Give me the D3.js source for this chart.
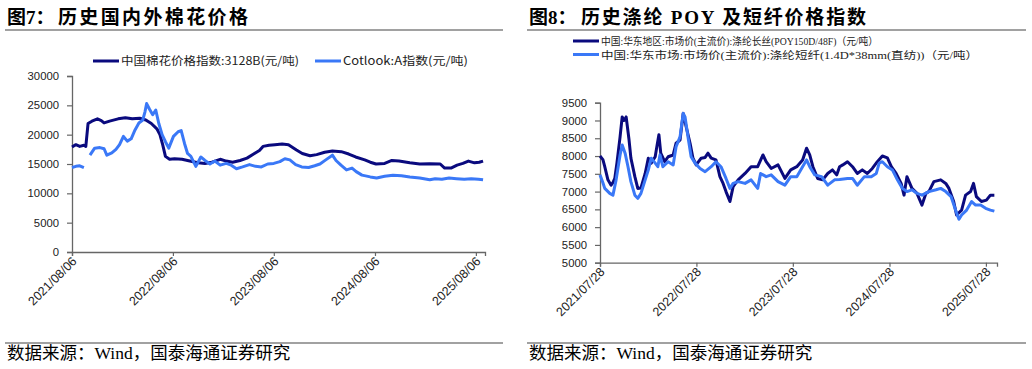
<!DOCTYPE html>
<html><head><meta charset="utf-8">
<script src="https://cdn.jsdelivr.net/npm/d3@7"></script>
<style>
html,body{margin:0;padding:0;background:#fff;}
svg{display:block;}
</style></head>
<body>
<script>
// ---------- DATA ----------
const leftTitlePrefix = "图7：", leftTitle = "历史国内外棉花价格";
const rightTitlePrefix = "图8：", rightTitle = "历史涤纶 POY 及短纤价格指数";
const sourceText = "数据来源：Wind，国泰海通证券研究";

const leftSeriesNames = ["中国棉花价格指数:3128B(元/吨)", "Cotlook:A指数(元/吨)"];
const rightSeriesNames = ["中国:华东地区:市场价(主流价):涤纶长丝(POY150D/48F)（元/吨）",
                          "中国:华东市场:市场价(主流价):涤纶短纤(1.4D*38mm(直纺))（元/吨）"];

const leftTickDates = ["2021-08-06","2022-08-06","2023-08-06","2024-08-06","2025-08-06"];
const leftTickLabels = ["2021/08/06","2022/08/06","2023/08/06","2024/08/06","2025/08/06"];
const rightTickDates = ["2021-07-28","2022-07-28","2023-07-28","2024-07-28","2025-07-28"];
const rightTickLabels = ["2021/07/28","2022/07/28","2023/07/28","2024/07/28","2025/07/28"];
const leftYTicks = [0,5000,10000,15000,20000,25000,30000];
const rightYTicks = [5000,5500,6000,6500,7000,7500,8000,8500,9000,9500];

const cnCotton = [
["2021-08-06",17900],["2021-08-20",18300],["2021-09-03",18000],["2021-09-18",18200],["2021-09-25",18000],
["2021-10-03",21900],["2021-10-17",22300],["2021-11-06",22700],["2021-11-20",22400],["2021-11-30",22000],
["2021-12-20",22300],["2022-01-20",22700],["2022-02-15",22900],["2022-03-12",22700],["2022-04-08",22800],
["2022-04-30",22500],["2022-05-20",21900],["2022-06-09",21000],["2022-06-20",20000],["2022-06-30",18300],
["2022-07-10",16300],["2022-07-25",15800],["2022-08-12",15900],["2022-09-08",15800],["2022-10-06",15500],
["2022-11-05",15200],["2022-11-30",15100],["2022-12-25",15300],["2023-01-24",15800],["2023-02-15",15500],
["2023-03-10",15300],["2023-04-06",15600],["2023-05-01",16000],["2023-05-25",16700],["2023-06-15",17300],
["2023-06-28",18000],["2023-07-20",18200],["2023-08-10",18300],["2023-09-05",18400],["2023-09-28",18300],
["2023-10-27",17400],["2023-11-17",16800],["2023-12-15",16400],["2024-01-08",16600],["2024-02-06",17000],
["2024-03-05",17200],["2024-04-06",17100],["2024-05-03",16700],["2024-05-28",16200],["2024-06-30",15700],
["2024-07-20",15300],["2024-08-10",15000],["2024-09-10",15100],["2024-10-06",15600],["2024-11-01",15500],
["2024-12-10",15200],["2025-01-15",15000],["2025-02-20",15050],["2025-03-30",15000],["2025-04-15",14300],
["2025-05-08",14300],["2025-05-30",14800],["2025-06-20",15100],["2025-07-10",15500],["2025-08-01",15200],
["2025-08-18",15300],["2025-09-01",15500]
];
const cotlookA = [
["2021-08-06",14400],["2021-08-20",14600],["2021-09-03",14700],["2021-09-18",14400],["2021-09-28",null],
["2021-10-10",16500],["2021-10-27",17700],["2021-11-15",17800],["2021-11-30",17600],["2021-12-10",16500],
["2021-12-28",16900],["2022-01-12",17500],["2022-01-25",18300],["2022-02-08",19700],["2022-02-22",18900],
["2022-03-08",19300],["2022-03-22",20800],["2022-04-05",22000],["2022-04-19",22500],["2022-04-27",23900],
["2022-05-03",25300],["2022-05-14",24300],["2022-05-25",23400],["2022-06-05",24200],["2022-06-16",21900],
["2022-06-28",20000],["2022-07-10",18800],["2022-07-22",17700],["2022-08-08",19700],["2022-08-25",20500],
["2022-09-05",20700],["2022-09-17",18500],["2022-09-28",16800],["2022-10-10",16300],["2022-10-28",14600],
["2022-11-15",16200],["2022-11-30",15600],["2022-12-18",15000],["2023-01-05",15500],["2023-01-24",14800],
["2023-02-15",15100],["2023-03-05",14800],["2023-03-24",14200],["2023-04-15",14500],["2023-05-10",14900],
["2023-06-01",14600],["2023-06-22",14500],["2023-07-15",15000],["2023-08-06",15100],["2023-08-28",15400],
["2023-09-15",15900],["2023-10-03",15700],["2023-10-24",14900],["2023-11-15",14500],["2023-12-10",14400],
["2024-01-01",14700],["2024-01-20",15000],["2024-02-10",15700],["2024-03-05",16500],["2024-03-18",15600],
["2024-04-05",14800],["2024-04-25",14000],["2024-05-15",14300],["2024-05-30",13700],["2024-06-20",13100],
["2024-07-20",12800],["2024-08-12",12600],["2024-09-10",12900],["2024-10-10",13100],["2024-11-10",13000],
["2024-12-10",12800],["2025-01-15",12600],["2025-02-20",12300],["2025-03-12",12500],["2025-04-05",12400],
["2025-05-01",12600],["2025-05-28",12500],["2025-06-25",12400],["2025-07-20",12500],["2025-08-15",12400],
["2025-09-01",12300]
];
const poy = [
["2021-07-28",8000],["2021-08-08",7900],["2021-08-15",7700],["2021-08-27",7330],["2021-09-08",7180],
["2021-09-15",7250],["2021-09-22",7370],["2021-09-30",7800],["2021-10-12",8540],["2021-10-20",9100],
["2021-10-27",9000],["2021-11-04",9100],["2021-11-15",8450],["2021-11-22",7940],["2021-12-07",7420],
["2021-12-18",7090],["2021-12-30",7100],["2022-01-15",7510],["2022-01-27",7940],["2022-02-07",7800],
["2022-02-22",7980],["2022-03-01",8300],["2022-03-08",8600],["2022-03-15",8080],["2022-03-30",7840],
["2022-04-12",7980],["2022-05-01",8030],["2022-05-12",8360],["2022-05-27",8450],["2022-06-08",9200],
["2022-06-19",8830],["2022-07-04",8360],["2022-07-15",7940],["2022-07-27",7750],["2022-08-15",7940],
["2022-08-30",7960],["2022-09-10",8080],["2022-09-22",7940],["2022-10-10",7890],["2022-10-25",7420],
["2022-11-06",7230],["2022-11-17",7000],["2022-12-02",6720],["2022-12-14",7140],["2023-01-02",7330],
["2023-01-28",7510],["2023-02-20",7700],["2023-03-17",7700],["2023-04-06",8030],["2023-04-18",7840],
["2023-05-07",7650],["2023-06-02",7750],["2023-06-28",7370],["2023-07-20",7610],["2023-08-12",7700],
["2023-09-03",7890],["2023-09-18",8220],["2023-09-30",8030],["2023-10-12",7700],["2023-10-30",7370],
["2023-11-18",7330],["2023-12-07",7510],["2023-12-25",7610],["2024-01-10",7470],["2024-01-21",7700],
["2024-02-02",7750],["2024-02-20",7840],["2024-03-10",7700],["2024-03-28",7510],["2024-04-16",7610],
["2024-05-05",7510],["2024-05-24",7650],["2024-06-12",7840],["2024-07-01",8000],["2024-07-20",7950],
["2024-08-04",7700],["2024-08-22",7510],["2024-09-10",7230],["2024-09-21",6900],["2024-10-02",7420],
["2024-10-21",7090],["2024-11-09",6950],["2024-11-28",6620],["2024-12-13",6950],["2024-12-24",7000],
["2025-01-12",7280],["2025-02-07",7330],["2025-02-26",7230],["2025-03-10",7090],["2025-03-28",6720],
["2025-04-08",6340],["2025-04-27",6480],["2025-05-12",6900],["2025-05-31",7000],["2025-06-11",7230],
["2025-06-22",6860],["2025-07-11",6720],["2025-07-30",6760],["2025-08-14",6900],["2025-08-29",6900]
];
const psf = [
["2021-07-28",7470],["2021-08-08",7250],["2021-08-15",7090],["2021-09-03",6950],["2021-09-15",6900],
["2021-09-27",7330],["2021-10-12",8030],["2021-10-20",8310],["2021-10-31",8080],["2021-11-11",7700],
["2021-11-22",7280],["2021-12-07",6900],["2021-12-18",6810],["2021-12-30",6950],["2022-01-15",7330],
["2022-01-27",7610],["2022-02-07",7940],["2022-02-22",7800],["2022-03-04",7700],["2022-03-12",8030],
["2022-03-23",7700],["2022-04-12",7840],["2022-05-01",7750],["2022-05-12",8260],["2022-05-27",8540],
["2022-06-08",9200],["2022-06-15",9100],["2022-06-26",8540],["2022-07-08",7980],["2022-07-23",7800],
["2022-08-11",7650],["2022-08-30",7560],["2022-09-22",7700],["2022-10-10",7840],["2022-10-29",7700],
["2022-11-17",7370],["2022-12-02",7090],["2022-12-14",7230],["2023-01-02",7280],["2023-01-28",7230],
["2023-02-20",7330],["2023-03-17",7090],["2023-03-28",7510],["2023-04-18",7420],["2023-05-07",7470],
["2023-06-02",7280],["2023-06-28",7180],["2023-07-20",7420],["2023-08-12",7420],["2023-09-03",7700],
["2023-09-18",7890],["2023-09-30",7700],["2023-10-19",7470],["2023-11-14",7420],["2023-12-07",7180],
["2024-01-02",7330],["2024-01-21",7340],["2024-02-20",7370],["2024-03-10",7370],["2024-03-28",7180],
["2024-04-24",7420],["2024-05-20",7420],["2024-06-08",7510],["2024-06-19",7800],["2024-07-01",7840],
["2024-07-20",7700],["2024-08-08",7610],["2024-08-27",7330],["2024-09-15",7090],["2024-10-02",7000],
["2024-10-21",7050],["2024-11-09",6950],["2024-11-28",6900],["2024-12-24",7000],["2025-01-20",7050],
["2025-02-07",7090],["2025-02-26",7000],["2025-03-18",6860],["2025-04-06",6440],["2025-04-17",6220],
["2025-04-27",6340],["2025-05-16",6480],["2025-06-04",6720],["2025-06-19",6620],["2025-07-08",6620],
["2025-07-27",6530],["2025-08-14",6480],["2025-08-29",6450]
];

// ---------- DRAW ----------
const W = 1032, H = 369;
const darkColor = "#0a0a7e", lightColor = "#3a78f7";
const parse = d3.timeParse("%Y-%m-%d");
const svg = d3.select("body").append("svg").attr("width", W).attr("height", H);
svg.append("rect").attr("width", W).attr("height", H).attr("fill", "#fff");

const titleFont = "'Liberation Serif','Noto Sans CJK SC',serif";
const axisFont = "'Liberation Sans',Arial,sans-serif";
const cjkSerif = "'Liberation Serif','Noto Sans CJK SC',serif";

function panel(opt) {
  const g = svg.append("g");
  // title
  g.append("text").attr("x", opt.titleX).attr("y", 24).text(opt.titlePrefix)
    .attr("font-family", titleFont).attr("font-weight", "bold").attr("font-size", 19).attr("fill", "#000");
  g.append("text").attr("x", opt.titleX2).attr("y", 24).text(opt.title)
    .attr("font-family", titleFont).attr("font-weight", "bold").attr("font-size", 19).attr("fill", "#000")
    .attr("textLength", opt.titleLen).attr("lengthAdjust", "spacing");
  g.append("line").attr("x1", opt.lineX1).attr("x2", opt.lineX2).attr("y1", 30).attr("y2", 30)
    .attr("stroke", "#444").attr("stroke-width", 1.2);
  g.append("line").attr("x1", opt.lineX1).attr("x2", opt.lineX2).attr("y1", 343).attr("y2", 343)
    .attr("stroke", "#444").attr("stroke-width", 1.2);
  g.append("text").attr("x", opt.titleX).attr("y", 359).text(sourceText)
    .attr("font-family", cjkSerif).attr("font-size", 17.5).attr("fill", "#000");

  const x = d3.scaleTime().domain([parse(opt.x0), parse(opt.x1)]).range([opt.left, opt.right]);
  const y = d3.scaleLinear().domain(opt.yDomain).range([opt.bottom, opt.top]);

  // axes
  const yAxis = d3.axisLeft(y).tickValues(opt.yTicks).tickSize(5).tickPadding(8).tickFormat(d3.format("d"));
  const ya = g.append("g").attr("transform", `translate(${opt.left},0)`).call(yAxis);
  ya.select(".domain").attr("stroke", "#666").attr("stroke-width", 1.3);
  ya.selectAll(".tick line").attr("stroke", "#666").attr("stroke-width", 1.2);
  ya.selectAll(".tick text").attr("font-family", axisFont).attr("font-size", 11.3).attr("fill", "#222");

  const tickDates = opt.xTicks.map(parse);
  const xAxis = d3.axisBottom(x).tickValues(tickDates).tickSize(4)
    .tickFormat((d, i) => opt.xLabels[i]);
  const xa = g.append("g").attr("transform", `translate(0,${opt.bottom})`).call(xAxis);
  xa.select(".domain").attr("stroke", "#666").attr("stroke-width", 1.3);
  xa.selectAll(".tick line").attr("stroke", "#666").attr("stroke-width", 1.2);
  xa.selectAll(".tick text").attr("font-family", axisFont).attr("font-size", 12.5).attr("fill", "#222")
    .attr("text-anchor", "end").attr("dy", 0).attr("y", 0)
    .attr("transform", "translate(5,10) rotate(-45)");

  // lines
  const line = d3.line().defined(d => d[1] !== null)
    .x(d => x(parse(d[0]))).y(d => y(d[1]));
  opt.series.forEach(s => {
    g.append("path").datum(s.data).attr("d", line).attr("fill", "none")
      .attr("stroke", s.color).attr("stroke-width", 3).attr("stroke-linejoin", "round");
  });

  // legend
  opt.legend.forEach(l => {
    g.append("line").attr("x1", l.x).attr("x2", l.x + 26).attr("y1", l.y).attr("y2", l.y)
      .attr("stroke", l.color).attr("stroke-width", 3);
    g.append("text").attr("x", l.x + 28).attr("y", l.y + 4).text(l.text)
      .attr("font-family", l.font).attr("font-size", l.size).attr("fill", "#222")
      .attr("textLength", l.len).attr("lengthAdjust", "spacingAndGlyphs");
  });
}

panel({
  titlePrefix: leftTitlePrefix, title: leftTitle, titleX: 7, titleX2: 58, titleLen: 190, lineX1: 5, lineX2: 503,
  x0: "2021-08-06", x1: "2025-09-08", left: 72, right: 485, top: 76, bottom: 252,
  yDomain: [0, 30000], yTicks: leftYTicks, xTicks: leftTickDates, xLabels: leftTickLabels,
  series: [{data: cnCotton, color: darkColor}, {data: cotlookA, color: lightColor}],
  legend: [
    {x: 93, y: 61, color: darkColor, text: leftSeriesNames[0], len: 178, size: 11.5, font: "'Noto Sans CJK SC',sans-serif"},
    {x: 315, y: 61, color: lightColor, text: leftSeriesNames[1], len: 125, size: 11.5, font: "'Noto Sans CJK SC',sans-serif"}
  ]
});

panel({
  titlePrefix: rightTitlePrefix, title: rightTitle, titleX: 529, titleX2: 581, titleLen: 285, lineX1: 527, lineX2: 1026,
  x0: "2021-07-28", x1: "2025-09-08", left: 600, right: 997, top: 102.7, bottom: 262.7,
  yDomain: [5000, 9500], yTicks: rightYTicks, xTicks: rightTickDates, xLabels: rightTickLabels,
  series: [{data: poy, color: darkColor}, {data: psf, color: lightColor}],
  legend: [
    {x: 573, y: 41, color: darkColor, text: rightSeriesNames[0], len: 277, size: 10.5, font: cjkSerif},
    {x: 573, y: 54.5, color: lightColor, text: rightSeriesNames[1], len: 377, size: 10.5, font: cjkSerif}
  ]
});
</script>
</body></html>
